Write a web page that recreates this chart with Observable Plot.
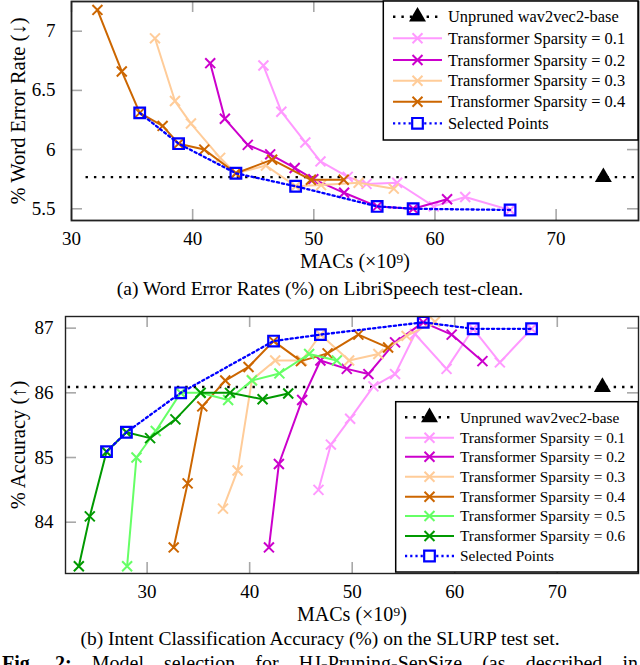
<!DOCTYPE html>
<html><head><meta charset="utf-8">
<script src="https://cdn.jsdelivr.net/npm/d3@7"></script>
<script src="https://cdn.jsdelivr.net/npm/@observablehq/plot@0.6"></script>
<style>
html,body{margin:0;padding:0;background:#fff;}
#root{position:relative;width:640px;height:665px;overflow:hidden;font-family:"Liberation Serif","Times New Roman",serif;color:#000;}
#root > *{position:absolute;}
#root svg, #root svg text, #root svg tspan{font-family:"Liberation Serif","Times New Roman",serif !important;}
.cap{left:0;width:640px;text-align:center;font-size:19.5px;line-height:1;white-space:nowrap;}
.fig{left:2px;width:636px;font-size:20px;line-height:1;text-align:justify;text-align-last:justify;}
</style></head><body><div id="root"></div>
<script>
// ---------- data ----------
const seriesLabels = ["Transformer Sparsity = 0.1","Transformer Sparsity = 0.2","Transformer Sparsity = 0.3","Transformer Sparsity = 0.4","Transformer Sparsity = 0.5","Transformer Sparsity = 0.6"];
const seriesColors = ["#ff99ff","#cc00cc","#ffcc99","#cc6600","#66ff66","#009900"];
const baselineLabel = "Unpruned wav2vec2-base";
const selectedLabel = "Selected Points";
const xTicks = [30,40,50,60,70];
const werYTicks = [5.5,6,6.5,7];
const accYTicks = [84,85,86,87];

// (a) WER
const wer01x = [45.84,47.32,49.3,50.55,52.8,54.35,56.88,59.9,62.5,66.2];
const wer01y = [6.71,6.32,6.06,5.90,5.77,5.71,5.72,5.52,5.60,5.49];
const wer02x = [41.45,42.66,44.55,46.4,48.42,49.96,52.5,55.23,58.2,61.0];
const wer02y = [6.73,6.26,6.04,5.96,5.845,5.75,5.635,5.52,5.50,5.58];
const wer03x = [36.89,38.54,39.86,42.27,43.57,46.05,48.5,50.6,53.7,56.6];
const wer03y = [6.94,6.41,6.22,5.93,5.80,5.865,5.69,5.70,5.72,5.67];
const wer04x = [32.14,34.15,35.63,37.52,38.84,40.96,43.57,46.56,49.76,52.47];
const wer04y = [7.18,6.66,6.31,6.20,6.05,6.00,5.80,5.915,5.745,5.745];
const werSelX = [35.63,38.84,43.57,48.5,55.23,58.2,66.2];
const werSelY = [6.31,6.05,5.80,5.69,5.52,5.50,5.49];
const werBaseX = 73.9, werBaseY = 5.767;

// (b) Accuracy
const acc01x = [46.71,47.92,49.8,52.07,54.18,56.12,59.2,61.8,64.4,67.49];
const acc01y = [84.50,85.20,85.60,86.10,86.29,86.91,86.37,86.99,86.47,86.99];
const acc02x = [41.88,42.85,45.12,46.9,49.47,51.58,54.18,56.93,59.7,62.7];
const acc02y = [83.61,84.90,85.89,86.50,86.37,86.29,86.78,87.09,86.90,86.49];
const acc03x = [37.4,38.82,40.22,42.49,45.1,46.9,49.7,52.55,55.3,58.07];
const acc03y = [84.21,84.80,86.20,86.50,86.50,86.90,86.50,86.60,86.88,87.10];
const acc04x = [32.59,33.95,35.38,37.62,39.89,42.33,45.0,47.6,50.6,53.5];
const acc04y = [83.61,84.60,85.79,86.19,86.40,86.80,86.49,86.61,86.90,86.70];
const acc05x = [28.05,28.96,30.84,33.27,35.2,37.9,40.22,42.9,45.8,48.5];
const acc05y = [83.32,85.00,85.41,86.00,86.00,85.89,86.19,86.30,86.60,86.50];
const acc06x = [23.34,24.41,26.04,27.98,30.29,32.76,35.22,38.08,41.26,43.76];
const acc06y = [83.32,84.09,85.09,85.39,85.30,85.59,86.00,86.00,85.90,85.99];
const accSelX = [26.04,27.98,33.27,42.33,46.9,56.93,61.8,67.49];
const accSelY = [85.09,85.39,86.00,86.80,86.90,87.09,86.99,86.99];
const accBaseX = 74.4, accBaseY = 86.09;

const zip = (xs, ys) => xs.map((x, i) => ({x, y: ys[i]}));
const FONT = '"Liberation Serif","Times New Roman",serif';

// ---------- chart builder ----------
function chart(o) {
  const pw = 640 - o.ml - o.mr, ph = o.height - o.mt - o.mb;
  const tk = {stroke: "#a8a8a8", strokeWidth: 1.6};
  const marks = [
    Plot.tickX(xTicks, {x: d => d, insetTop: ph - 11, ...tk}),
    Plot.tickX(xTicks, {x: d => d, insetBottom: ph - 11, ...tk}),
    Plot.tickY(o.yTicks, {y: d => d, insetLeft: pw - 11, ...tk}),
    Plot.tickY(o.yTicks, {y: d => d, insetRight: pw - 11, ...tk}),
    Plot.axisX(xTicks, {tickSize: 0, tickPadding: 11, fontSize: 19, label: null, fontFamily: FONT}),
    Plot.axisY(o.yTicks, {tickSize: 0, tickPadding: o.yPad, fontSize: 19, label: null, fontFamily: FONT, tickFormat: d => String(d)}),
    Plot.ruleY([o.base], {y: "y", x1: () => o.baseX1, x2: () => o.xDomain[1], stroke: "#000", strokeWidth: 2.4, strokeDasharray: "2.4,6"}),
    Plot.dot([o.base], {x: "x", y: "y", symbol: "triangle", r: 6.3, fill: "#000", stroke: "none"})
  ];
  o.series.forEach((s, i) => {
    marks.push(Plot.line(s, {x: "x", y: "y", stroke: seriesColors[i], strokeWidth: 2}));
    marks.push(Plot.dot(s, {x: "x", y: "y", symbol: "times", r: 4.6, stroke: seriesColors[i], strokeWidth: 2}));
  });
  marks.push(Plot.line(o.sel, {x: "x", y: "y", stroke: "#0000ff", strokeWidth: 2.3, strokeDasharray: "2.2,3"}));
  marks.push(Plot.dot(o.sel, {x: "x", y: "y", symbol: "square", r: 6, stroke: "#0000ff", strokeWidth: 2.2, fill: "none"}));
  marks.push(Plot.frame({stroke: "#222", strokeWidth: o.frameW}));
  marks.push(Plot.text([o.xLabel], {text: d => d, frameAnchor: "bottom", lineAnchor: "middle", textAnchor: "middle", dy: 41, fontSize: 20, fontFamily: FONT}));
  marks.push(Plot.text([o.yLabel], {text: d => d, frameAnchor: "left", lineAnchor: "middle", textAnchor: "middle", rotate: -90, dx: -(o.ml - 18), fontSize: 20.5, fontFamily: FONT}));
  const p = Plot.plot({
    width: 640, height: o.height,
    marginLeft: o.ml, marginRight: o.mr, marginTop: o.mt, marginBottom: o.mb,
    x: {domain: o.xDomain},
    y: {domain: o.yDomain},
    style: {fontFamily: FONT, fontSize: "19px", overflow: "visible", background: "transparent", color: "#000"},
    marks
  });
  p.setAttribute("font-family", FONT);
  p.style.left = "0px";
  p.style.top = o.top + "px";
  return p;
}

// ---------- legend builder ----------
function legend(svg, o) {
  svg.append("rect").attr("x", o.left).attr("y", o.top).attr("width", o.right - o.left).attr("height", o.bottom - o.top)
    .attr("fill", "#fff").attr("stroke", "#000").attr("stroke-width", 1.5);
  const mid = (o.sx1 + o.sx2) / 2;
  o.entries.forEach((e, i) => {
    const y = o.rows[i];
    const g = svg.append("g");
    if (e.type === "base") {
      g.append("line").attr("x1", o.sx1).attr("x2", o.sx2).attr("y1", y).attr("y2", y)
        .attr("stroke", "#000").attr("stroke-width", 2.4).attr("stroke-dasharray", "2.4,6");
      g.append("path").attr("d", d3.symbol(d3.symbolTriangle, Math.PI * 6.3 * 6.3)()).attr("transform", `translate(${mid},${y})`).attr("fill", "#000");
    } else if (e.type === "sel") {
      g.append("line").attr("x1", o.sx1).attr("x2", o.sx2).attr("y1", y).attr("y2", y)
        .attr("stroke", "#0000ff").attr("stroke-width", 2.3).attr("stroke-dasharray", "2.2,3");
      g.append("path").attr("d", d3.symbol(d3.symbolSquare, Math.PI * 36)()).attr("transform", `translate(${mid},${y})`)
        .attr("fill", "#fff").attr("stroke", "#0000ff").attr("stroke-width", 2.2);
    } else {
      g.append("line").attr("x1", o.sx1).attr("x2", o.sx2).attr("y1", y).attr("y2", y)
        .attr("stroke", e.color).attr("stroke-width", 2);
      g.append("path").attr("d", d3.symbol(d3.symbolTimes, Math.PI * 4.6 * 4.6)()).attr("transform", `translate(${mid},${y})`)
        .attr("fill", "none").attr("stroke", e.color).attr("stroke-width", 2);
    }
    g.append("text").attr("x", o.tx).attr("y", y).attr("dy", "0.35em").attr("font-size", o.fs)
      .attr("font-family", FONT).text(e.label);
  });
}

const root = document.getElementById("root");

const werSeries = [zip(wer01x, wer01y), zip(wer02x, wer02y), zip(wer03x, wer03y), zip(wer04x, wer04y)];
const accSeries = [zip(acc01x, acc01y), zip(acc02x, acc02y), zip(acc03x, acc03y), zip(acc04x, acc04y), zip(acc05x, acc05y), zip(acc06x, acc06y)];

root.appendChild(chart({
  top: 0, height: 275, mt: 1, mb: 55, ml: 71, mr: 2,
  xDomain: [30, 76.8], yDomain: [5.401, 7.251], yTicks: werYTicks, yPad: 16,
  series: werSeries, sel: zip(werSelX, werSelY), base: {x: werBaseX, y: werBaseY}, baseX1: 31.2,
  xLabel: "MACs (×10⁹)", yLabel: "% Word Error Rate (↓)", frameW: 1.8
}));
root.appendChild(chart({
  top: 305, height: 330, mt: 11, mb: 62, ml: 65, mr: 2,
  xDomain: [22.04, 77.92], yDomain: [83.207, 87.18], yTicks: accYTicks, yPad: 12,
  series: accSeries, sel: zip(accSelX, accSelY), base: {x: accBaseX, y: accBaseY}, baseX1: 22.3,
  xLabel: "MACs (×10⁹)", yLabel: "% Accuracy (↑)", frameW: 1.4
}));

const lsvg = d3.create("svg").attr("width", 640).attr("height", 665).style("left", "0px").style("top", "0px").style("pointer-events", "none");
legend(lsvg, {
  left: 383.3, top: 1, right: 638, bottom: 140, sx1: 393, sx2: 442, tx: 448, fs: 16.4,
  rows: [16.7, 38.3, 60, 80.7, 101.7, 123.3],
  entries: [{type: "base", label: baselineLabel}].concat(seriesLabels.slice(0, 4).map((l, i) => ({type: "s", label: l, color: seriesColors[i]}))).concat([{type: "sel", label: selectedLabel}])
});
legend(lsvg, {
  left: 395.7, top: 401.7, right: 638, bottom: 572, sx1: 405, sx2: 454, tx: 460, fs: 15.3,
  rows: [417.3, 437.7, 456.7, 476.7, 496.7, 516, 536, 556],
  entries: [{type: "base", label: baselineLabel}].concat(seriesLabels.map((l, i) => ({type: "s", label: l, color: seriesColors[i]}))).concat([{type: "sel", label: selectedLabel}])
});
root.appendChild(lsvg.node());

function addDiv(cls, top, html) {
  const d = document.createElement("div");
  d.className = cls; d.style.top = top + "px"; d.innerHTML = html;
  root.appendChild(d);
}
addDiv("cap", 279, "(a) Word Error Rates (%) on LibriSpeech test-clean.");
addDiv("cap", 629, "(b) Intent Classification Accuracy (%) on the SLURP test set.");
addDiv("fig", 652.5, "<b>Fig. 2:</b> Model selection for HJ-Pruning-SepSize (as described in");
</script></body></html>
